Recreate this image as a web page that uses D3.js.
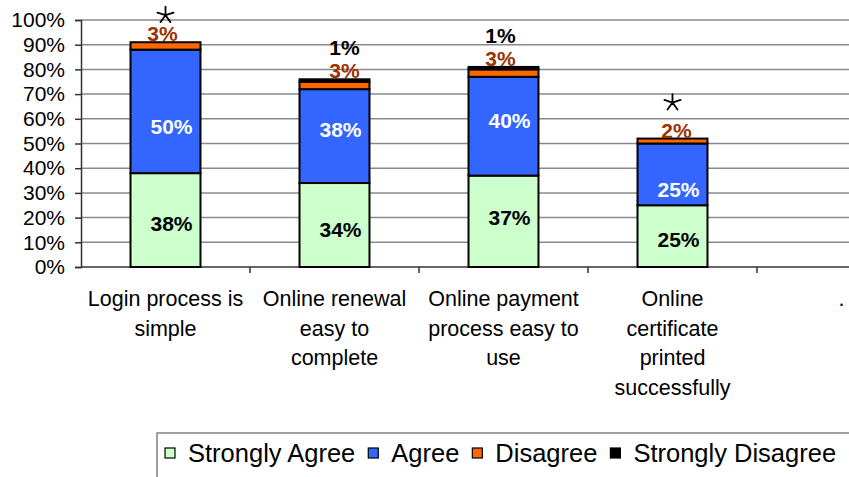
<!DOCTYPE html>
<html>
<head>
<meta charset="utf-8">
<script src="https://cdn.jsdelivr.net/npm/d3@7"></script>
<style>
  html, body { margin: 0; padding: 0; background: #fff; }
  svg { display: block; font-family: "Liberation Sans", Arial, sans-serif; }
</style>
</head>
<body>
<svg id="chart" width="849" height="477"></svg>
<script>
// Survey statements (x categories); the last slot is an empty placeholder
const categories = [
  ["Login process is", "simple"],
  ["Online renewal", "easy to", "complete"],
  ["Online payment", "process easy to", "use"],
  ["Online", "certificate", "printed", "successfully"],
  ["."]
];

// Share of responses per statement (%)
const stronglyAgree    = [38, 34, 37, 25];
const agree            = [50, 38, 40, 25];
const disagree         = [3, 3, 3, 2];
const stronglyDisagree = [0, 1, 1, 0];

// Statements flagged with an asterisk
const flagged = [true, false, false, true];

const seriesNames  = ["Strongly Agree", "Agree", "Disagree", "Strongly Disagree"];
const seriesColors = ["#ccffcc", "#3366ff", "#ff6600", "#000000"];

const yTicks = [0, 10, 20, 30, 40, 50, 60, 70, 80, 90, 100];

// Small hand placement tweaks for the value labels and asterisks (px)
const greenLabelDy = [4, 5, -4, 4];
const blueLabelDy  = [15, -6, -6, 15];
const topLabelDx   = [-3, 10, -3, 4];
const starDy       = [-27, 0, 0, -36];

const svg = d3.select("#chart");

const plotLeft = 81, plotTop = 20, plotBottom = 267;
const catStep = 169;

const x = d3.scaleBand()
  .domain(d3.range(categories.length))
  .range([plotLeft, plotLeft + catStep * categories.length])
  .padding(0);

const y = d3.scaleLinear().domain([0, 100]).range([plotBottom, plotTop]);

const barW = x.bandwidth() * 0.414;

// Gridlines
svg.append("g")
  .selectAll("line")
  .data(yTicks.filter(d => d > 0))
  .join("line")
  .attr("x1", plotLeft).attr("x2", 849)
  .attr("y1", d => y(d)).attr("y2", d => y(d))
  .attr("stroke", "#8a8a8a").attr("stroke-width", 1.5);

// Y axis
const yAxis = d3.axisLeft(y).tickValues(yTicks).tickFormat(d => d + "%").tickSize(6).tickPadding(10);
const gy = svg.append("g").attr("transform", `translate(${plotLeft},0)`).call(yAxis);
gy.select(".domain").attr("stroke", "#333").attr("stroke-width", 1.5);
gy.selectAll(".tick line").attr("stroke", "#333").attr("stroke-width", 1.5);
gy.selectAll(".tick text")
  .attr("font-family", "Liberation Sans, Arial, sans-serif")
  .attr("font-size", 21).attr("fill", "#000");

// X axis line with category dividers
const gx = svg.append("g").attr("transform", `translate(0,${plotBottom})`);
gx.append("line").attr("x1", plotLeft).attr("x2", 849).attr("y1", 0).attr("y2", 0)
  .attr("stroke", "#333").attr("stroke-width", 1.5);
gx.selectAll("line.div")
  .data(d3.range(1, categories.length))
  .join("line").attr("class", "div")
  .attr("x1", d => x(d)).attr("x2", d => x(d))
  .attr("y1", 0).attr("y2", 6)
  .attr("stroke", "#333").attr("stroke-width", 1.5);

// Category labels
const catG = svg.append("g");
categories.forEach((lines, i) => {
  const t = catG.append("text")
    .attr("x", x(i) + x.bandwidth() / 2)
    .attr("y", 306)
    .attr("text-anchor", "middle")
    .attr("font-size", 21.5).attr("fill", "#000");
  lines.forEach((ln, k) => {
    t.append("tspan").attr("x", x(i) + x.bandwidth() / 2).attr("y", 306 + k * 29.5).text(ln);
  });
});

// Stacked bars
const rows = stronglyAgree.map((v, i) => ({
  i, values: [v, agree[i], disagree[i], stronglyDisagree[i]]
}));

const barsG = svg.append("g");
rows.forEach(r => {
  let base = 0;
  const cx = x(r.i) + x.bandwidth() / 2;
  r.values.forEach((v, s) => {
    if (v > 0) {
      barsG.append("rect")
        .attr("x", cx - barW / 2)
        .attr("y", y(base + v))
        .attr("width", barW)
        .attr("height", y(base) - y(base + v))
        .attr("fill", seriesColors[s])
        .attr("stroke", "#000").attr("stroke-width", 2);
    }
    base += v;
  });
});

// Thin five-armed asterisk marker
function starPath(r) {
  const p = d3.path();
  for (let k = 0; k < 5; k++) {
    const ang = -Math.PI / 2 + k * 2 * Math.PI / 5;
    p.moveTo(0, 0);
    p.lineTo(r * Math.cos(ang), r * Math.sin(ang));
  }
  return p.toString();
}

// Value labels
const lab = svg.append("g").attr("font-weight", "bold").attr("font-size", 21);
rows.forEach(r => {
  const cx = x(r.i) + x.bandwidth() / 2;
  const [sa, a, d, sd] = r.values;
  const total = sa + a + d + sd;
  lab.append("text")
    .attr("x", cx + 6).attr("y", y(sa / 2) + greenLabelDy[r.i]).attr("dy", "0.35em")
    .attr("text-anchor", "middle").attr("fill", "#000").text(sa + "%");
  lab.append("text")
    .attr("x", cx + 6).attr("y", y(sa + a / 2) + blueLabelDy[r.i]).attr("dy", "0.35em")
    .attr("text-anchor", "middle").attr("fill", "#fff").text(a + "%");
  lab.append("text")
    .attr("x", cx + topLabelDx[r.i]).attr("y", y(total) - 1)
    .attr("text-anchor", "middle").attr("fill", "#993300").text(d + "%");
  if (sd > 0) {
    lab.append("text")
      .attr("x", cx + topLabelDx[r.i]).attr("y", y(total) - 24)
      .attr("text-anchor", "middle").attr("fill", "#000").text(sd + "%");
  }
  if (flagged[r.i]) {
    svg.append("path")
      .attr("transform", `translate(${cx},${y(total) + starDy[r.i]})`)
      .attr("d", starPath(8.5))
      .attr("fill", "none").attr("stroke", "#000").attr("stroke-width", 1.8)
      .attr("stroke-linecap", "round");
  }
});

// Legend
const leg = svg.append("g");
leg.append("rect").attr("x", 157).attr("y", 433).attr("width", 720).attr("height", 80)
  .attr("fill", "#fff").attr("stroke", "#808080").attr("stroke-width", 1.5);
let lx = 165;
seriesNames.forEach((name, s) => {
  leg.append("rect").attr("x", lx).attr("y", 448).attr("width", 10).attr("height", 10)
    .attr("fill", seriesColors[s]).attr("stroke", "#000").attr("stroke-width", 1.2);
  const t = leg.append("text").attr("x", lx + 23).attr("y", 462)
    .attr("font-size", 25.5).attr("fill", "#000").text(name);
  lx += 23 + t.node().getComputedTextLength() + 13;
});
</script>
</body>
</html>
